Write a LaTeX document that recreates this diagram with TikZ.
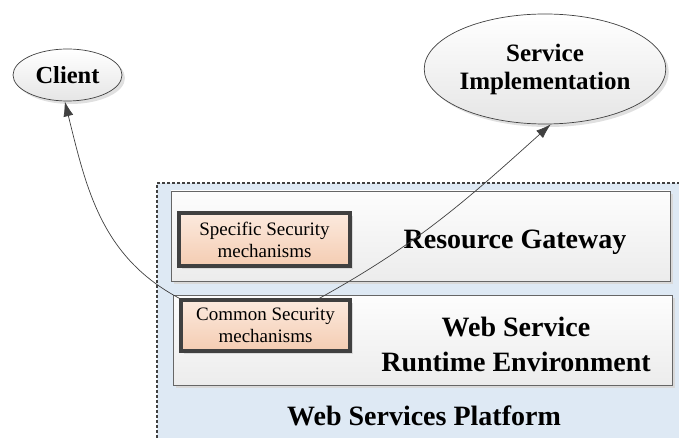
\documentclass[tikz,border=0pt]{standalone}
\usepackage{fontspec}
\setmainfont{Liberation Serif}
\definecolor{platformfill}{RGB}{222, 233, 244}
\definecolor{layertop}{RGB}{253, 253, 253}
\definecolor{layerbottom}{RGB}{236, 236, 236}
\definecolor{mechtop}{RGB}{252, 234, 222}
\definecolor{mechbottom}{RGB}{244, 204, 178}
\definecolor{darkline}{RGB}{64, 64, 64}
\usetikzlibrary{arrows.meta, shadows, shapes.geometric}
\tikzset{
    layerbox/.style={draw=darkline!80, line width=0.8pt, top color=layertop,
        bottom color=layerbottom, minimum width=499pt, minimum height=90pt,
        drop shadow={shadow xshift=3pt, shadow yshift=-3pt, fill=black!15,
        opacity=1}},
    mechbox/.style={draw=darkline, line width=3.5pt, top color=mechtop,
        bottom color=mechbottom, align=center, inner sep=0pt,
        font=\fontsize{19}{22}\selectfont,
        drop shadow={shadow xshift=3pt, shadow yshift=-3pt, fill=black!15,
        opacity=1}},
    endpoint/.style={ellipse, draw=darkline, line width=0.7pt, top color=white,
        bottom color=black!10, align=center, inner sep=0pt,
        drop shadow={shadow xshift=3pt, shadow yshift=-3pt, fill=black!12,
        opacity=1}},
    biglabel/.style={align=center, font=\bfseries\fontsize{28}{35}\selectfont},
    flowarrow/.style={-{Latex[length=15pt, width=10pt]}, draw=darkline,
        line width=0.7pt},
}

\begin{document}
\begin{tikzpicture}[x=1pt, y=1pt]
    \useasboundingbox (0, 0) rectangle (679, -438);
    % platform background
    \node[draw=darkline, dash pattern=on 3pt off 2pt, line width=1.3pt,
        fill=platformfill, minimum width=528pt, minimum height=262pt,
        inner sep=0pt] (platform) at (421, -314) {};
    \node[biglabel] (platformname) at (424, -416) {Web Services Platform};
    % layers
    \node[layerbox] (gateway) at (420.5, -236) {};
    \node[layerbox] (runtime) at (422.5, -340) {};
    \node[biglabel] (gatewayname) at (515, -242) {Resource Gateway};
    \node[biglabel] (runtimename) at (516, -344)
        {Web Service\\Runtime Environment};
    % security mechanisms
    \node[mechbox, minimum width=171pt, minimum height=53pt] (specific)
        at (264.5, -239.5) {Specific Security\\mechanisms};
    \node[mechbox, minimum width=169pt, minimum height=51pt] (common)
        at (265.5, -325.5) {Common Security\\mechanisms};
    % end points
    \node[endpoint, minimum width=109pt, minimum height=52pt,
        font=\bfseries\fontsize{24.5}{28}\selectfont] (client)
        at (67.5, -75) {Client};
    \node[endpoint, minimum width=211pt, minimum height=110pt,
        font=\bfseries\fontsize{25}{28}\selectfont] (service)
        at (545, -69) {Service\\Implementation};
    % flows
    \draw[flowarrow] (common.north west) to[out=152, in=-76] (client.-96);
    \draw[flowarrow] ([xshift=54pt]common.north) to[out=29, in=222]
        (service.-84);
\end{tikzpicture}
\end{document}
